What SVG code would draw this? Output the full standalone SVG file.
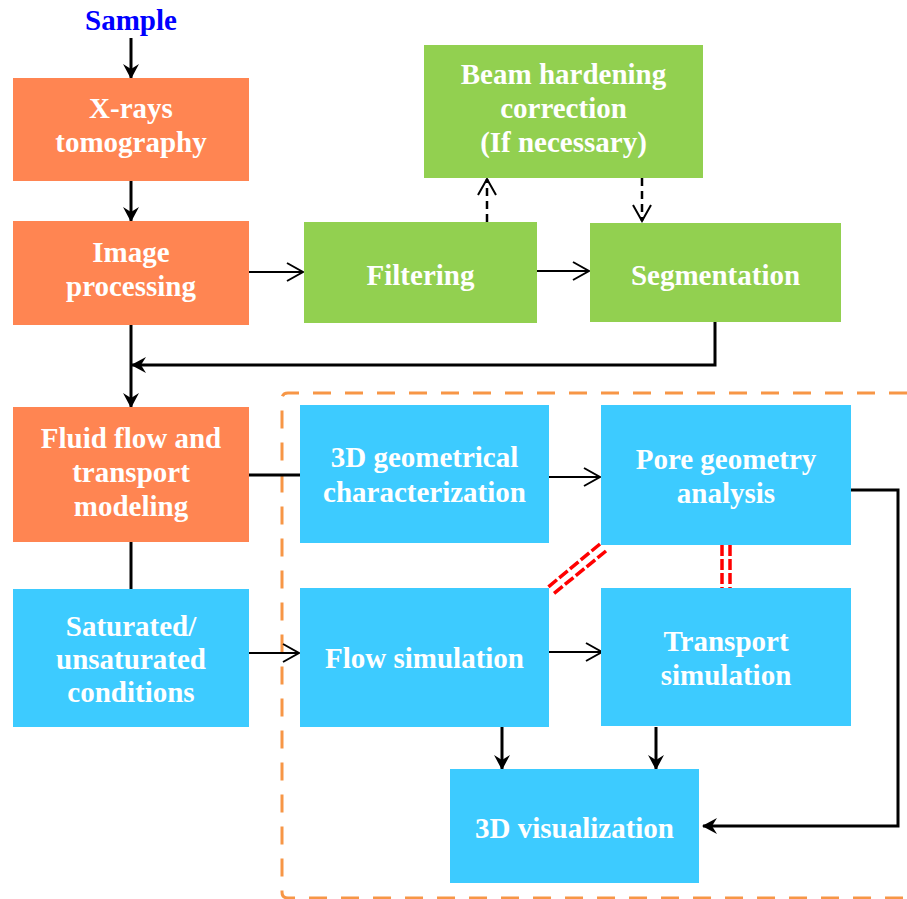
<svg xmlns="http://www.w3.org/2000/svg" width="907" height="899" viewBox="0 0 907 899">
<defs>
<style>
.t{font-family:"Liberation Serif","Times New Roman",serif;font-weight:bold;font-size:29px;fill:#ffffff;text-anchor:middle}
.or{fill:#FF8552}
.gr{fill:#92D050}
.bl{fill:#3DCBFF}
.thick{stroke:#000;stroke-width:3;fill:none}
.thin{stroke:#000;stroke-width:2;fill:none}
.dash{stroke:#000;stroke-width:2.5;fill:none;stroke-dasharray:8 5}
.red{stroke:#FF0000;stroke-width:3.5;fill:none;stroke-dasharray:11 3}
</style>
<marker id="stealth" markerUnits="userSpaceOnUse" viewBox="0 0 15 16" refX="14" refY="8" markerWidth="15" markerHeight="16" orient="auto">
<path d="M0,0 L15,8 L0,16 L5,8 z" fill="#000"/>
</marker>
<marker id="open" markerUnits="userSpaceOnUse" viewBox="-2 -2 20 22" refX="16" refY="9" markerWidth="20" markerHeight="22" orient="auto">
<path d="M0,0 L16,9 L0,18" fill="none" stroke="#000" stroke-width="2"/>
</marker>
</defs>
<rect width="907" height="899" fill="#ffffff"/>

<path d="M907,393 H288 Q282,393 282,399 V892 Q282,898 288,898 H907" fill="none" stroke="#F79646" stroke-width="3" stroke-dasharray="18 14"/>

<g id="connectors">
<line class="thick" x1="131" y1="38" x2="131" y2="78" marker-end="url(#stealth)"/>
<line class="thick" x1="131" y1="181" x2="131" y2="221" marker-end="url(#stealth)"/>
<line class="thin" x1="249" y1="272" x2="303" y2="272" marker-end="url(#open)"/>
<line class="thin" x1="537" y1="271" x2="589" y2="271" marker-end="url(#open)"/>
<line class="dash" x1="487" y1="222" x2="487" y2="179" marker-end="url(#open)"/>
<line class="dash" x1="642" y1="178" x2="642" y2="221" marker-end="url(#open)"/>
<polyline class="thick" points="715,322 715,365 132,365" marker-end="url(#stealth)"/>
<line class="thick" x1="131" y1="325" x2="131" y2="407" marker-end="url(#stealth)"/>
<line class="thick" x1="249" y1="475" x2="300" y2="475"/>
<line class="thick" x1="131" y1="542" x2="131" y2="589"/>
<line class="thin" x1="249" y1="653" x2="299" y2="653" marker-end="url(#open)"/>
<line class="thin" x1="549" y1="477" x2="600" y2="477" marker-end="url(#open)"/>
<line class="thin" x1="549" y1="652" x2="602" y2="652" marker-end="url(#open)"/>
<polyline class="thick" points="851,490 898,490 898,826 703,826" marker-end="url(#stealth)"/>
<line class="thick" x1="502" y1="727" x2="502" y2="769" marker-end="url(#stealth)"/>
<line class="thick" x1="656" y1="727" x2="656" y2="769" marker-end="url(#stealth)"/>
<line class="red" x1="600" y1="544" x2="547" y2="588" stroke-dasharray="9 3"/>
<line class="red" x1="606" y1="551" x2="552" y2="595" stroke-dasharray="9 3"/>
<line class="red" x1="722" y1="545" x2="722" y2="588"/>
<line class="red" x1="730" y1="545" x2="730" y2="588"/>
</g>

<g id="sample">
<text x="131" y="30" class="t" style="fill:#0000FF">Sample</text>
</g>

<g id="xrays">
<rect class="or" x="13" y="78" width="236" height="103"/>
<text class="t" x="131" y="118">X-rays</text>
<text class="t" x="131" y="152">tomography</text>
</g>

<g id="imageproc">
<rect class="or" x="13" y="221" width="236" height="104"/>
<text class="t" x="131" y="262">Image</text>
<text class="t" x="131" y="296">processing</text>
</g>

<g id="beam">
<rect class="gr" x="424" y="45" width="279" height="133"/>
<text class="t" x="563.5" y="84">Beam hardening</text>
<text class="t" x="563.5" y="118">correction</text>
<text class="t" x="563.5" y="152">(If necessary)</text>
</g>

<g id="filtering">
<rect class="gr" x="304" y="222" width="233" height="101"/>
<text class="t" x="420.5" y="285">Filtering</text>
</g>

<g id="segmentation">
<rect class="gr" x="590" y="223" width="251" height="99"/>
<text class="t" x="715.5" y="285">Segmentation</text>
</g>

<g id="fluid">
<rect class="or" x="13" y="407" width="236" height="135"/>
<text class="t" x="131" y="448">Fluid flow and</text>
<text class="t" x="131" y="482">transport</text>
<text class="t" x="131" y="516">modeling</text>
</g>

<g id="saturated">
<rect class="bl" x="13" y="589" width="236" height="138"/>
<text class="t" x="131" y="636">Saturated/</text>
<text class="t" x="131" y="669">unsaturated</text>
<text class="t" x="131" y="702">conditions</text>
</g>

<g id="geom3d">
<rect class="bl" x="300" y="405" width="249" height="138"/>
<text class="t" x="424.5" y="467">3D geometrical</text>
<text class="t" x="424.5" y="502">characterization</text>
</g>

<g id="pore">
<rect class="bl" x="601" y="405" width="250" height="140"/>
<text class="t" x="726" y="469">Pore geometry</text>
<text class="t" x="726" y="503">analysis</text>
</g>

<g id="flowsim">
<rect class="bl" x="300" y="588" width="249" height="139"/>
<text class="t" x="424.5" y="668">Flow simulation</text>
</g>

<g id="transport">
<rect class="bl" x="601" y="588" width="250" height="138"/>
<text class="t" x="726" y="651">Transport</text>
<text class="t" x="726" y="685">simulation</text>
</g>

<g id="vis3d">
<rect class="bl" x="450" y="769" width="249" height="114"/>
<text class="t" x="574.5" y="838">3D visualization</text>
</g>
</svg>
